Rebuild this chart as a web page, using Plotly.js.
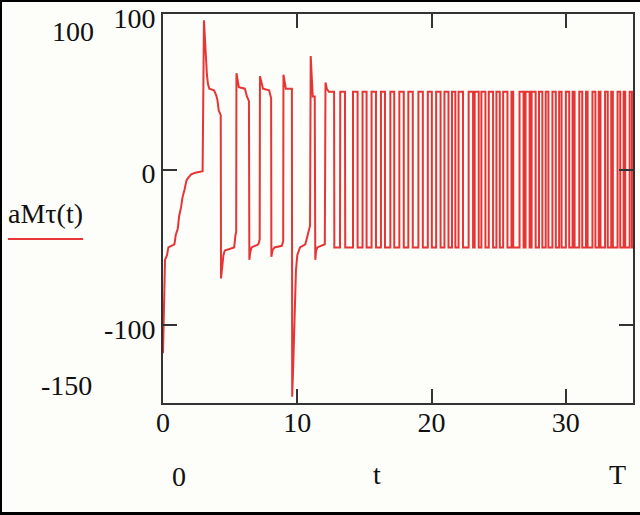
<!DOCTYPE html>
<html>
<head>
<meta charset="utf-8">
<script src="https://cdn.plot.ly/plotly-3.0.1.min.js"></script>
<style>
  html, body { margin: 0; padding: 0; overflow: hidden; background: #fdfdf9; }
  #plotArea { position: absolute; left: 0; top: 0; width: 640px; height: 515px; }
  .edge { position: absolute; background: #000; pointer-events: none; }
</style>
</head>
<body>
<div id="plotArea"></div>
<div class="edge" style="left:0;top:0;width:640px;height:2px"></div>
<div class="edge" style="left:0;top:0;width:2px;height:515px"></div>
<div class="edge" style="left:0;top:512px;width:640px;height:3px"></div>
<script>
// start-up transient (t, aMtau)
var transT = [0.0, 0.05, 0.1, 0.15, 0.3, 0.4, 0.85, 0.95, 1.1, 1.2, 1.35, 1.45, 1.6, 1.75, 1.9, 2.1, 2.4, 2.7, 2.95,
  3.05, 3.12, 3.2, 3.27, 3.35, 3.45, 3.8, 3.95, 4.05, 4.15, 4.25, 4.3,
  4.32, 4.4, 4.5, 4.6, 5.3, 5.4, 5.45,
  5.47, 5.55, 5.65, 6.1, 6.25, 6.4,
  6.43, 6.5, 6.6, 7.1, 7.2,
  7.22, 7.3, 7.45, 7.9, 8.0, 8.05,
  8.07, 8.15, 8.3, 8.85, 8.95,
  8.97, 9.05, 9.15, 9.6,
  9.62, 9.7, 9.8, 9.9, 10.0, 10.2, 10.6, 10.8, 10.95,
  11.0, 11.07, 11.15, 11.3,
  11.34, 11.4, 11.5, 12.05,
  12.1, 12.2, 12.35, 12.74,
  12.76, 13.18, 13.2, 13.55, 13.57, 14.0];
var transY = [-118, -95, -75, -58, -55, -50, -48, -42, -38, -30, -24, -18, -13, -7, -5, -3, -2, -1.5, -1,
  96, 80, 72, 61, 55, 52, 51, 48, 45, 38, 35, 35,
  -70, -62, -55, -52, -50, -42, -40,
  62, 58, 53, 52, 47, 44,
  -58, -53, -50, -48, -45,
  60, 57, 52, 51, 47, 46,
  -56, -52, -50, -49, -46,
  61, 57, 52, 52,
  -146, -125, -90, -65, -55, -50, -48, -42, -36,
  73, 60, 47, 47,
  -58, -52, -50, -48,
  56, 52, 50, 50,
  -50, -50, 50, 50, -50, -50];

// steady switching after t = 14: rise / fall times of each pulse
var pulseRise = [14.15, 14.86, 15.53, 16.23, 16.93, 17.6, 18.27, 19.02, 19.72, 20.34, 20.96, 21.52, 22.01,
  22.76, 23.21, 23.71, 24.26, 24.83, 25.33, 25.95, 26.55, 27.0, 27.45, 28.0, 28.5, 29.0, 29.5, 30.0,
  30.5, 31.0, 31.5, 31.98, 32.45, 32.92, 33.38, 33.85, 34.3, 34.75];
var pulseFall = [14.49, 15.16, 15.86, 16.53, 17.22, 17.93, 18.6, 19.35, 20.02, 20.67, 21.26, 21.77, 22.34,
  23.09, 23.51, 24.01, 24.58, 25.08, 25.65, 26.08, 26.85, 27.3, 27.75, 28.25, 28.7, 29.25, 29.68, 30.25,
  30.65, 31.22, 31.62, 32.2, 32.58, 33.12, 33.5, 34.05, 34.42, 34.92];
var pulseHigh = 50;
var pulseLow = -50;
var tEnd = 35;

var xTicks = [0, 10, 20, 30];
var yTicks = [100, 0, -100];
var yTickText = ["100", "0", "-100"];

var tt = transT.slice();
var yy = transY.slice();
pulseRise.forEach(function(r, i) {
  tt.push(r, r, pulseFall[i], pulseFall[i]);
  yy.push(pulseLow, pulseHigh, pulseHigh, pulseLow);
});
tt.push(tEnd);
yy.push(pulseLow);

var trace = {
  x: tt,
  y: yy,
  mode: "lines",
  type: "scatter",
  line: {color: "#e63535", width: 2},
  hoverinfo: "none"
};

var serif = "Liberation Serif, Times New Roman, serif";
var axisCommon = {
  showgrid: false,
  zeroline: false,
  showline: true,
  linecolor: "#333",
  linewidth: 2,
  mirror: "ticks",
  ticks: "inside",
  ticklen: 14,
  tickwidth: 2,
  tickcolor: "#333",
  ticklabeloverflow: "allow",
  tickfont: {family: serif, size: 28, color: "#111"}
};

function note(text, x, y) {
  return {text: text, xref: "paper", yref: "paper", x: x, y: y, showarrow: false,
          xanchor: "center", yanchor: "middle", font: {family: serif, size: 28, color: "#111"}};
}

var layout = {
  width: 640,
  height: 515,
  margin: {l: 163, r: 7, t: 14, b: 112},
  paper_bgcolor: "#fdfdf9",
  plot_bgcolor: "#fdfdf9",
  showlegend: false,
  xaxis: Object.assign({}, axisCommon, {range: [0, tEnd], tickvals: xTicks, ticktext: xTicks.map(String),
                                        ticklabelstandoff: -7}),
  yaxis: Object.assign({}, axisCommon, {range: [-150, 100], tickvals: yTicks, ticktext: yTickText,
                                        ticklabelshift: 4}),
  annotations: [
    note("100", -0.1915, 0.956),
    note("aMτ(t)", -0.249, 0.488),
    note("-150", -0.206, 0.044),
    note("0", 0.034, -0.19),
    note("t", 0.455, -0.185),
    note("T", 0.968, -0.185)
  ],
  shapes: [
    {type: "line", xref: "paper", yref: "paper", x0: -0.33, x1: -0.17, y0: 0.4216, y1: 0.4216,
     line: {color: "#e63535", width: 2}}
  ]
};

Plotly.newPlot("plotArea", [trace], layout, {staticPlot: true});
</script>
</body>
</html>
